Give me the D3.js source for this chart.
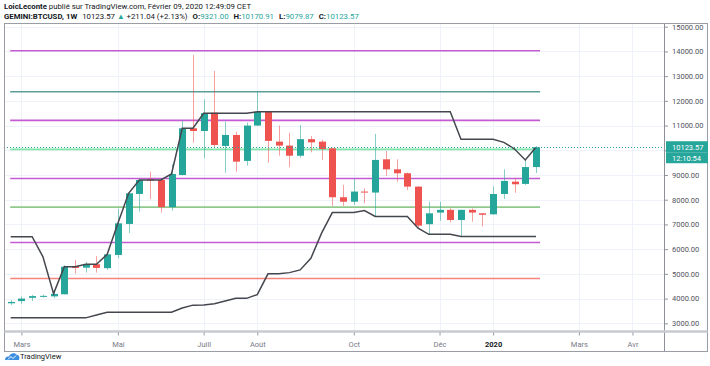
<!DOCTYPE html>
<html>
<head>
<meta charset="utf-8">
<script src="https://cdn.jsdelivr.net/npm/d3@7"></script>
<style>
  body { margin: 0; background: #fff; }
  svg text { font-family: Roboto, "Liberation Sans", sans-serif; }
</style>
</head>
<body>
<div id="chart"></div>
<script>
// weekly bars, GEMINI:BTCUSD 1W
var weeks = ["2019-02-25","2019-03-04","2019-03-11","2019-03-18","2019-03-25","2019-04-01","2019-04-08","2019-04-15","2019-04-22","2019-04-29",
             "2019-05-06","2019-05-13","2019-05-20","2019-05-27","2019-06-03","2019-06-10","2019-06-17","2019-06-24","2019-07-01","2019-07-08",
             "2019-07-15","2019-07-22","2019-07-29","2019-08-05","2019-08-12","2019-08-19","2019-08-26","2019-09-02","2019-09-09","2019-09-16",
             "2019-09-23","2019-09-30","2019-10-07","2019-10-14","2019-10-21","2019-10-28","2019-11-04","2019-11-11","2019-11-18","2019-11-25",
             "2019-12-02","2019-12-09","2019-12-16","2019-12-23","2019-12-30","2020-01-06","2020-01-13","2020-01-20","2020-01-27","2020-02-03"];
var open  = [3810,3900,4030,4070,4090,4175,5320,5250,5390,5230, 5765,7020,8233,8830,8800,7700,9000,10890,10780,11520,
             10175,10620,9570,11000,11560,10350,10190,9780,10450,10350, 10080,8100,7920,8330,8290,9635,9230,9070,8530,7010,
             7480,7590,7180,7590,7450,7410,8233,8730,8640,9321];
var high  = [3940,4080,4150,4160,4270,5350,5560,5480,5720,5830, 7630,8300,8830,9135,8830,9450,11200,13860,12060,13210,
             11160,10750,11120,12370,11580,11000,10710,11020,10580,10420, 10100,8600,8840,8460,10660,9970,9635,9100,8540,7920,
             7920,7650,7600,7650,7460,8530,9230,8870,9610,10170.91];
var low   = [3745,3790,3900,4040,4010,4160,5000,5050,5050,5160, 5630,6650,7520,8020,7480,7560,8990,10310,9680,10120,
             9095,9135,9380,10990,9500,9780,9310,9700,9920,9610, 7750,7750,7790,7860,7320,8960,8730,8390,6845,6600,
             7150,7090,6510,7110,6910,7390,8030,8285,8600,9079.87];
var close = [3865,4000,4100,4110,4190,5290,5240,5390,5240,5790, 7045,8260,8800,8780,7700,9040,10890,10780,11500,10215,
             10620,9540,11000,11560,10380,10190,9780,10450,10320,10050, 8100,7920,8330,8290,9610,9230,9070,8530,6950,7450,
             7590,7180,7590,7480,7390,8230,8760,8625,9321,10123.57];

// channel lines drawn on the chart
var upperBand = [6505,6505,6505,5697,4200,5290,5290,5390,5390,5790, 7045,8260,8800,8800,8800,9040,10890,10890,11500,11500,
                 11500,11500,11500,11560,11560,11560,11560,11560,11560,11560, 11560,11560,11560,11560,11560,11560,11560,11560,11560,11560,
                 11560,11560,10450,10450,10450,10450,10320,10050,9610,10123.57];
var lowerBand = [3220,3220,3220,3220,3220,3220,3220,3220,3338,3447, 3447,3447,3447,3447,3447,3447,3620,3735,3745,3790,
                 3900,4010,4010,4160,5000,5000,5050,5160,5630,6650, 7480,7480,7480,7560,7320,7320,7320,7320,6845,6600,
                 6600,6600,6510,6510,6510,6510,6510,6510,6510,6510];

// horizontal levels
var levels = [14030, 12370, 11210, 10035, 8860, 7700, 6270, 4810];
var levelColors = ["#c35bd3", "#5b9d99", "#c35bd3", "#7fe6a8", "#c35bd3", "#8fca8c", "#c35bd3", "#f8857d"];

var priceTicks = [3000,4000,5000,6000,7000,8000,9000,10000,11000,12000,13000,14000,15000];
var monthTicks = ["2019-03-04","2019-05-06","2019-07-01","2019-08-05","2019-10-07","2019-12-02","2020-01-06","2020-03-02","2020-04-06"];
var monthLabels = ["Mars","Mai","Juill","Août","Oct","Déc","2020","Mars","Avr"];

var W = 710, H = 366;
var plotL = 4, plotR = 664, plotT = 23, plotB = 331;
var up = "#26a69a", down = "#ef5350";
var parse = d3.utcParse("%Y-%m-%d");

var svg = d3.select("#chart").append("svg")
    .attr("width", W)
    .attr("height", H);

var x = d3.scaleUtc()
    .domain([parse(weeks[0]), parse(weeks[weeks.length - 1])])
    .range([10.7, 536]);
var y = d3.scaleLinear()
    .domain([3000, 15000])
    .range([323.3, 26.7]);

var bodyW = 7;

svg.append("clipPath").attr("id", "plot")
  .append("rect")
    .attr("x", plotL).attr("y", plotT)
    .attr("width", plotR - plotL).attr("height", plotB - plotT);

// grid
var grid = svg.append("g");
grid.selectAll(".hg")
    .data(priceTicks)
    .enter().append("line")
    .attr("x1", plotL).attr("x2", plotR)
    .attr("y1", function (d) { return Math.round(y(d)) + 0.5; })
    .attr("y2", function (d) { return Math.round(y(d)) + 0.5; })
    .attr("stroke", "#eff2f8");
grid.selectAll(".vg")
    .data(monthTicks)
    .enter().append("line")
    .attr("x1", function (d) { return Math.round(x(parse(d))) + 0.5; })
    .attr("x2", function (d) { return Math.round(x(parse(d))) + 0.5; })
    .attr("y1", plotT).attr("y2", plotB)
    .attr("stroke", "#eff2f8");

var plot = svg.append("g").attr("clip-path", "url(#plot)");

// levels
plot.selectAll(".level")
    .data(levels)
    .enter().append("line")
    .attr("x1", x(parse(weeks[0])) - 0.5)
    .attr("x2", x(parse(weeks[weeks.length - 1])) + 4)
    .attr("y1", function (d) { return y(d); })
    .attr("y2", function (d) { return y(d); })
    .attr("stroke", function (d, i) { return levelColors[i]; })
    .attr("stroke-width", 1.6);

// candles
var bars = weeks.map(function (w, i) {
    return { date: parse(w), o: open[i], h: high[i], l: low[i], c: close[i] };
});

var candle = plot.selectAll(".candle")
    .data(bars)
    .enter().append("g")
    .attr("class", "candle");

candle.append("line")
    .attr("x1", function (d) { return Math.round(x(d.date)) + 0.5; })
    .attr("x2", function (d) { return Math.round(x(d.date)) + 0.5; })
    .attr("y1", function (d) { return y(d.h); })
    .attr("y2", function (d) { return y(d.l); })
    .attr("stroke", function (d) { return d.c >= d.o ? up : down; })
    .attr("stroke-opacity", 0.55)
    .attr("stroke-width", 1);

candle.append("rect")
    .attr("x", function (d) { return Math.round(x(d.date)) + 0.5 - bodyW / 2; })
    .attr("width", bodyW)
    .attr("y", function (d) { return y(Math.max(d.o, d.c)); })
    .attr("height", function (d) { return Math.max(1, Math.abs(y(d.o) - y(d.c))); })
    .attr("fill", function (d) { return d.c >= d.o ? up : down; });

// channel lines
var band = d3.line()
    .x(function (d, i) { return x(parse(weeks[i])); })
    .y(function (d) { return y(d); });

plot.append("path")
    .datum(upperBand)
    .attr("d", band)
    .attr("fill", "none")
    .attr("stroke", "#45474f")
    .attr("stroke-width", 1.5);
plot.append("path")
    .datum(lowerBand)
    .attr("d", band)
    .attr("fill", "none")
    .attr("stroke", "#45474f")
    .attr("stroke-width", 1.5);

// last price line
var lastY = y(close[close.length - 1]);
plot.append("line")
    .attr("x1", plotL).attr("x2", plotR)
    .attr("y1", Math.round(lastY) + 0.5).attr("y2", Math.round(lastY) + 0.5)
    .attr("stroke", up)
    .attr("stroke-dasharray", "1,2");

// frame
svg.append("rect")
    .attr("x", 4.5).attr("y", 23.5)
    .attr("width", 703).attr("height", 328)
    .attr("fill", "none")
    .attr("stroke", "#9a9da6");
svg.append("line")
    .attr("x1", plotR + 0.5).attr("x2", plotR + 0.5)
    .attr("y1", 23.5).attr("y2", 351.5)
    .attr("stroke", "#8d9099");
svg.append("line")
    .attr("x1", 4.5).attr("x2", 707.5)
    .attr("y1", plotB + 0.5).attr("y2", plotB + 0.5)
    .attr("stroke", "#c8cad0")
    .attr("stroke-width", 2.5);

// price axis (10000 label sits under the last price tag)
var yAxis = d3.axisRight(y)
    .tickValues(priceTicks)
    .tickFormat(function (d) { return d == 10000 ? "" : d3.format(".2f")(d); })
    .tickSize(3)
    .tickPadding(4);
var ya = svg.append("g")
    .attr("transform", "translate(" + (plotR + 1) + ",0)")
    .call(yAxis);
ya.select(".domain").remove();
ya.selectAll("line").attr("stroke", "#9598a1");
ya.selectAll("text")
    .attr("fill", "#50535e")
    .style("font-size", "7.5px");

// last price tag
var tag = svg.append("g");
tag.append("rect")
    .attr("x", plotR + 2).attr("y", lastY - 6)
    .attr("width", 42).attr("height", 11)
    .attr("fill", up);
tag.append("rect")
    .attr("x", plotR + 2).attr("y", lastY + 5)
    .attr("width", 42).attr("height", 11)
    .attr("fill", up);
tag.append("text")
    .attr("x", plotR + 8).attr("y", lastY + 2.7)
    .attr("fill", "#fff")
    .style("font-size", "7.5px")
    .text(d3.format(".2f")(close[close.length - 1]));
tag.append("text")
    .attr("x", plotR + 8).attr("y", lastY + 13.5)
    .attr("fill", "#fff")
    .style("font-size", "7.5px")
    .text("12:10:54");

// time axis
var xAxis = d3.axisBottom(x)
    .tickValues(monthTicks.map(parse))
    .tickFormat(function (d, i) { return monthLabels[i]; })
    .tickSize(3)
    .tickPadding(6);
var xa = svg.append("g")
    .attr("transform", "translate(0," + (plotB + 1.5) + ")")
    .call(xAxis);
xa.select(".domain").remove();
xa.selectAll("line").attr("stroke", "#9598a1");
xa.selectAll("text")
    .attr("fill", "#787b86")
    .style("font-size", "7.5px")
    .filter(function (d, i) { return monthLabels[i] == "2020"; })
    .attr("fill", "#131722")
    .style("font-weight", "bold");

// header
var h1 = svg.append("text")
    .attr("x", 4).attr("y", 9)
    .attr("fill", "#131722")
    .style("font-size", "7.8px");
h1.append("tspan").style("font-weight", "bold").text("LoicLeconte");
h1.append("tspan").text(" publié sur TradingView.com, Février 09, 2020 12:49:09 CET");

var h2 = svg.append("text")
    .attr("x", 4).attr("y", 19)
    .attr("fill", "#131722")
    .style("font-size", "7.8px");
h2.append("tspan").style("font-weight", "bold").text("GEMINI:BTCUSD, 1W");
h2.append("tspan").attr("dx", 5).text("10123.57 ");
h2.append("tspan").attr("fill", up).text("▲");
h2.append("tspan").text(" +211.04 (+2.13%)");
[["O:", "9321.00"], ["H:", "10170.91"], ["L:", "9079.87"], ["C:", "10123.57"]].forEach(function (p) {
    h2.append("tspan").attr("dx", 5).style("font-weight", "bold").text(p[0]);
    h2.append("tspan").attr("fill", up).text(p[1]);
});

// footer logo
var logo = svg.append("g").attr("transform", "translate(5,352)");
logo.append("path")
    .attr("d", "M0,8 C0,5 2,4 4,4.5 C5,1 10,0 12,3 C14,3 15,5 14,8 Z")
    .attr("fill", "#3b8de0");
logo.append("path")
    .attr("d", "M3,7.5 L6,4.5 L8,6.5 L11,3.5")
    .attr("fill", "none")
    .attr("stroke", "#fff")
    .attr("stroke-width", 1);
svg.append("text")
    .attr("x", 20).attr("y", 359)
    .attr("fill", "#131722")
    .style("font-size", "7.5px")
    .text("TradingView");
</script>
</body>
</html>
